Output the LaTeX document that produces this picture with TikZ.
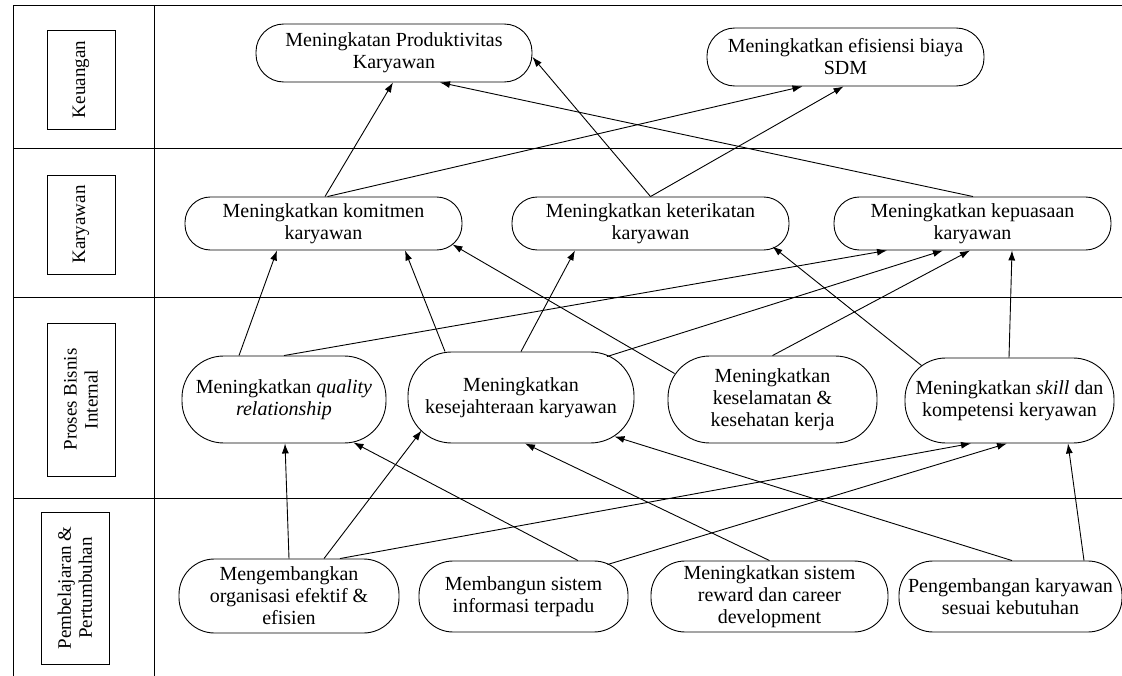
\documentclass[tikz,border=0pt]{standalone}
\usepackage{fontspec}
\setmainfont{Liberation Serif}
\usetikzlibrary{arrows.meta}

\begin{document}
\begin{tikzpicture}[x=1pt,y=-1pt,line width=0.9pt,
  obj/.style n args={2}{draw,align=center,inner sep=0pt,minimum width=#1,minimum height=#2,rounded corners=0.48*#2,font=\fontsize{20}{22}\selectfont},
  lane/.style n args={2}{draw,rotate=90,align=center,inner sep=0pt,minimum width=#1,minimum height=#2,font=\fontsize{19}{21}\selectfont},
  link/.style={-{Latex[length=10pt,width=7pt]}}]
\useasboundingbox (0,0) rectangle (1122,676);
\draw (13,676) -- (13,5) -- (1122,5);
\draw (154,5) -- (154,676);
\foreach \y in {148,297,498} {
   \draw (13,\y) -- (1122,\y);
}
\node[lane={99}{68}] (keuangan) at (81,79.5) {Keuangan};
\node[lane={99}{68}] (karyawan) at (81,224.5) {Karyawan};
\node[lane={153}{68}] (proses) at (81,399.5) {Proses Bisnis\\Internal};
\node[lane={152}{68}] (belajar) at (75,588) {Pembelajaran \&\\Pertumbuhan};

\node[obj={276}{58}] (produktif) at (394,53) {Meningkatan Produktivitas\\Karyawan};
\node[obj={277}{58}] (efisien) at (845.5,57) {Meningkatkan efisiensi biaya\\SDM};
\node[obj={277}{53}] (komitmen) at (323.5,223.5) {Meningkatkan komitmen\\karyawan};
\node[obj={277}{53}] (keterikatan) at (650.5,223.5) {Meningkatkan keterikatan\\karyawan};
\node[obj={277}{53}] (kepuasan) at (972.5,223.5) {Meningkatkan kepuasaan\\karyawan};
\node[obj={204}{87}] (quality) at (284,399.5) {Meningkatkan \textit{quality}\\\textit{relationship}};
\node[obj={226}{91}] (sejahtera) at (521,397.5) {Meningkatkan\\kesejahteraan karyawan};
\node[obj={209}{87}] (selamat) at (772.5,399.5) {Meningkatkan\\keselamatan \&\\kesehatan kerja};
\node[obj={209}{85}] (skill) at (1009.5,400.5) {Meningkatkan \textit{skill} dan\\kompetensi keryawan};
\node[obj={220}{74}] (organisasi) at (289,596) {Mengembangkan\\organisasi efektif \&\\efisien};
\node[obj={209}{71}] (informasi) at (523.5,596.5) {Membangun sistem\\informasi terpadu};
\node[obj={237}{71}] (reward) at (769.5,596.5) {Meningkatkan sistem\\reward dan career\\development};
\node[obj={223}{71}] (pengembangan) at (1010.5,596.5) {Pengembangan karyawan\\sesuai kebutuhan};

\draw[link] ([xshift=1.5]komitmen.north) -- ([xshift=-1]produktif.south);
\draw[link] ([xshift=4]komitmen.north) -- ([xshift=-43]efisien.south);
\draw[link] (keterikatan.north) -- ([yshift=-4]produktif.east);
\draw[link] (keterikatan.north) -- ([xshift=-2]efisien.south);
\draw[link] ([xshift=0.5]kepuasan.north) -- ([xshift=46]produktif.south);

\draw[link] ([xshift=-45]quality.north) -- ([xshift=-46.5]komitmen.south);
\draw[link] (quality.north) -- ([xshift=-85.5]kepuasan.south);
\draw[link] ([xshift=-76]sejahtera.north) -- ([xshift=81.5]komitmen.south);
\draw[link] (sejahtera.north) -- ([xshift=-75.5]keterikatan.south);
\draw[link] ([xshift=86,yshift=-5]sejahtera.north) -- ([xshift=-29.5]kepuasan.south);
\draw[link] ([xshift=7,yshift=26]selamat.west) -- ([xshift=-10,yshift=6]komitmen.south east);
\draw[link] (selamat.north) -- ([xshift=-2.5]kepuasan.south);
\draw[link] ([xshift=17,yshift=-8]skill.north west) -- ([xshift=-17,yshift=4]keterikatan.south east);
\draw[link] ([xshift=-0.5]skill.north) -- ([xshift=39.5]kepuasan.south);

\draw[link] (organisasi.north) -- ([xshift=1]quality.south);
\draw[link] ([xshift=35]organisasi.north) -- ([xshift=14,yshift=13]sejahtera.south west);
\draw[link] ([xshift=51]organisasi.north) -- ([xshift=-38.5]skill.south);
\draw[link] ([xshift=54.5]informasi.north) -- ([xshift=-33,yshift=1]quality.south east);
\draw[link] ([xshift=-21,yshift=-4]informasi.north east) -- ([xshift=-2.5]skill.south);
\draw[link] (reward.north) -- ([xshift=4]sejahtera.south);
\draw[link] ([xshift=1.5]pengembangan.north) -- ([xshift=-20,yshift=7]sejahtera.south east);
\draw[link] ([xshift=73.5]pengembangan.north) -- ([xshift=58.5]skill.south);
\end{tikzpicture}
\end{document}
